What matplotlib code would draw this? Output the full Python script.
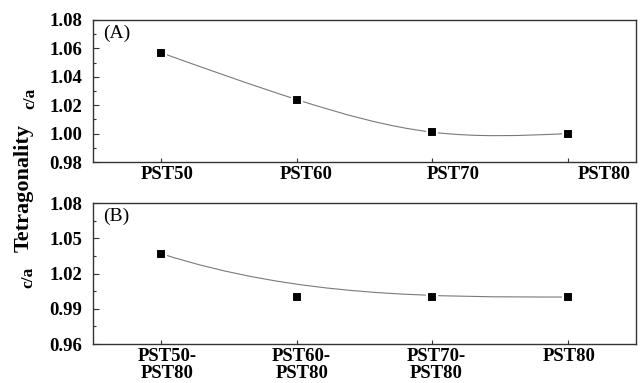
import numpy as np
import matplotlib
matplotlib.use("Agg")
import matplotlib.pyplot as plt
from matplotlib.path import Path
from matplotlib.patches import PathPatch
from matplotlib.ticker import MultipleLocator
from matplotlib.transforms import ScaledTranslation

# values
samplesA = ["PST50", "PST60", "PST70", "PST80"]
ratioA = [1.057, 1.024, 1.001, 1.000]
samplesB = ["PST50-\nPST80", "PST60-\nPST80", "PST70-\nPST80", "PST80"]
ratioB = [1.037, 1.000, 1.000, 1.000]

# label shifts (pixels) as drawn in the original figure
shiftA = [6, 9, 21, 36]
shiftB = [6, 5, 4, 1]

plt.rcParams['font.family'] = ['Liberation Serif', 'DejaVu Serif']
plt.rcParams['font.weight'] = 'bold'

lineColor = '#7a7a7a'
spineColor = '#333333'


def splinePath(y):
    # natural cubic spline through the points, drawn as bezier segments
    n = len(y)
    A = np.zeros((n, n))
    rhs = np.zeros(n)
    A[0, 0] = 1
    A[-1, -1] = 1
    for i in range(1, n - 1):
        A[i, i - 1:i + 2] = [1, 4, 1]
        rhs[i] = 6 * (y[i - 1] - 2 * y[i] + y[i + 1])
    M = np.linalg.solve(A, rhs)
    verts = [(0, y[0])]
    codes = [Path.MOVETO]
    for i in range(n - 1):
        d0 = y[i + 1] - y[i] - (2 * M[i] + M[i + 1]) / 6
        d1 = y[i + 1] - y[i] + (M[i] + 2 * M[i + 1]) / 6
        verts += [(i + 1 / 3, y[i] + d0 / 3), (i + 2 / 3, y[i + 1] - d1 / 3), (i + 1, y[i + 1])]
        codes += [Path.CURVE4] * 3
    return Path(verts, codes)


def bsplinePath(y):
    # the points used as control points of one cubic bezier
    verts = list(zip(range(len(y)), y))
    codes = [Path.MOVETO] + [Path.CURVE4] * (len(y) - 1)
    return Path(verts, codes)


def styleAx(fig, ax, labels, shifts, ylim, major, panel):
    ax.set_xlim(-0.5, 3.5)
    ax.set_ylim(*ylim)
    ax.yaxis.set_major_locator(MultipleLocator(major))
    ax.yaxis.set_minor_locator(MultipleLocator(major / 2))
    ax.set_xticks(range(len(labels)))
    ax.set_xticklabels(labels, fontsize=13.5, fontweight='bold', linespacing=0.95)
    ax.tick_params(axis='y', which='major', direction='in', length=4.5, width=0.8,
                   pad=8, labelsize=13.5, color=spineColor)
    ax.tick_params(axis='y', which='minor', direction='in', length=2.2, width=0.8, color=spineColor)
    ax.tick_params(axis='x', direction='in', length=3, width=0.8, pad=3, color=spineColor)
    for spine in ax.spines.values():
        spine.set_color(spineColor)
        spine.set_linewidth(1.0)
    for label, dx in zip(ax.get_xticklabels(), shifts):
        label.set_transform(label.get_transform() + ScaledTranslation(dx / 100, 0, fig.dpi_scale_trans))
    ax.text(0.018, 0.968, panel, transform=ax.transAxes, ha='left', va='top',
            fontsize=14, fontweight='normal')


fig = plt.figure(figsize=(6.42, 3.83), dpi=100)
axA = fig.add_axes([0.1449, 0.577, 0.8458, 0.3708])
axB = fig.add_axes([0.1449, 0.1018, 0.8458, 0.368])

axA.add_patch(PathPatch(splinePath(ratioA), facecolor='none', edgecolor=lineColor, lw=0.8))
axA.plot(range(len(ratioA)), ratioA, linestyle='none', marker='s', ms=6.5,
         mfc='black', mec='white', mew=1.5)
styleAx(fig, axA, samplesA, shiftA, (0.98, 1.08), 0.02, '(A)')

axB.add_patch(PathPatch(bsplinePath(ratioB), facecolor='none', edgecolor=lineColor, lw=0.8))
axB.plot(range(len(ratioB)), ratioB, linestyle='none', marker='s', ms=6.5,
         mfc='black', mec='white', mew=1.5)
styleAx(fig, axB, samplesB, shiftB, (0.96, 1.08), 0.03, '(B)')

fig.text(24 / 642, 1 - 188 / 383, 'Tetragonality', rotation=90, ha='center', va='center',
         fontsize=16, fontweight='bold')
fig.text(30 / 642, 1 - 98 / 383, 'c/a', rotation=90, ha='center', va='center',
         fontsize=12.5, fontweight='bold')
fig.text(28 / 642, 1 - 277 / 383, 'c/a', rotation=90, ha='center', va='center',
         fontsize=12.5, fontweight='bold')

fig.savefig('out.png', dpi=100)
